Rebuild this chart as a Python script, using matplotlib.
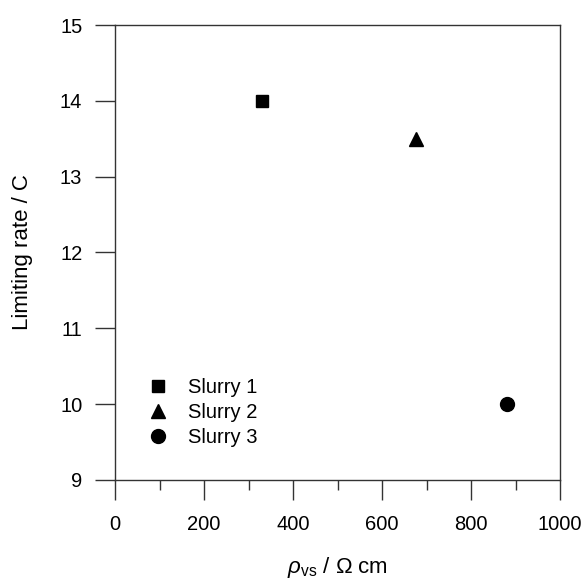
import matplotlib.pyplot as plt
from matplotlib.ticker import MultipleLocator

plt.rcParams['font.family'] = ['Liberation Sans', 'DejaVu Sans']
plt.rcParams['mathtext.fontset'] = 'custom'
plt.rcParams['mathtext.it'] = 'Liberation Sans:italic'
plt.rcParams['mathtext.rm'] = 'Liberation Sans'

# data
labels = ['Slurry 1', 'Slurry 2', 'Slurry 3']
resistivity = [330, 677, 880]
limiting_rate = [14.0, 13.5, 10.0]
markers = ['s', '^', 'o']
marker_sizes = [9, 10, 10]

fig = plt.figure(figsize=(5.82, 5.83), dpi=100)
ax = fig.add_axes([0.1976, 0.1767, 0.7646, 0.7804])

for lab, x, y, m, ms in zip(labels, resistivity, limiting_rate, markers, marker_sizes):
    ax.plot(x, y, linestyle='none', marker=m, markersize=ms, color='black', label=lab)

ax.set_xlim(0, 1000)
ax.set_ylim(9, 15)
ax.xaxis.set_major_locator(MultipleLocator(200))
ax.xaxis.set_minor_locator(MultipleLocator(100))
ax.yaxis.set_major_locator(MultipleLocator(1))

for s in ax.spines.values():
    s.set_linewidth(1.0)
    s.set_color('#333333')

ax.tick_params(axis='x', which='major', direction='out', length=14.5, width=1.0,
               pad=11, labelsize=14.5, color='#333333')
ax.tick_params(axis='x', which='minor', direction='out', length=7, width=1.0, color='#333333')
ax.tick_params(axis='y', which='major', direction='out', length=14.5, width=1.0,
               pad=9, labelsize=14.5, color='#333333')

ax.set_xlabel(r'$\rho_{\mathrm{vs}}$ / Ω cm', fontsize=16)
ax.set_ylabel('Limiting rate / C', fontsize=16)
ax.xaxis.set_label_coords(0.5, -0.165)
ax.yaxis.set_label_coords(-0.184, 0.5)

ax.legend(loc='lower left', bbox_to_anchor=(0.056, 0.055), frameon=False, fontsize=14.5,
          handletextpad=1.0, labelspacing=0.3, handlelength=1.0, borderaxespad=0)

fig.savefig('out.png', dpi=100)
